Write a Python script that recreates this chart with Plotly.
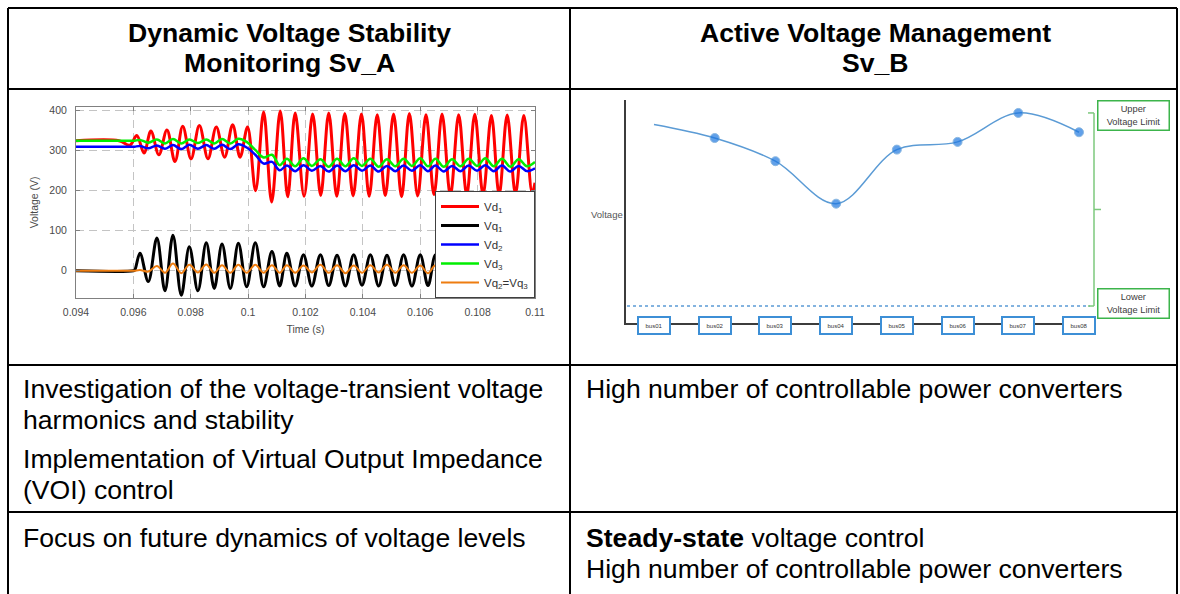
import plotly.graph_objects as go

W, H = 1180, 594
def px(x): return x / W
def py(y): return 1 - y / H

FONT = "Liberation Sans, Arial, sans-serif"

# ---------------- Left chart (Sv_A) data ----------------
t_vd1 = [0.0940, 0.0955, 0.09588, 0.09612, 0.09637, 0.09661, 0.09689, 0.09717, 0.09745, 0.09772,
         0.09801, 0.09830, 0.09860, 0.09889, 0.09918, 0.09946, 0.09972, 0.09998, 0.10026, 0.10054,
         0.10082, 0.10112, 0.10138, 0.10164, 0.10195, 0.10225, 0.10253, 0.10281, 0.10309, 0.10337,
         0.10366, 0.10395, 0.10422, 0.10450, 0.10478, 0.10507, 0.10535, 0.10562, 0.10591, 0.10620,
         0.10648, 0.10676, 0.10705, 0.10734, 0.10762, 0.10790, 0.10819, 0.10848, 0.10875, 0.10903,
         0.10932, 0.10961, 0.10990, 0.1100]
vd1 = [325, 325, 314, 338, 294, 349, 290, 352, 273, 361,
       280, 363, 280, 359, 284, 365, 284, 359, 200, 397,
       172, 399, 185, 394, 186, 392, 188, 394, 186, 393,
       187, 392, 186, 390, 188, 392, 185, 393, 187, 390,
       190, 392, 188, 390, 189, 391, 190, 388, 190, 389,
       192, 388, 195, 220]

t_q = [0.0940, 0.0960, 0.09605, 0.09623, 0.09652, 0.09682, 0.09710, 0.09738, 0.09767, 0.09795,
       0.09825, 0.09854, 0.09882, 0.09909, 0.09938, 0.09966, 0.09995, 0.10025, 0.10054, 0.10083,
       0.10110, 0.10135, 0.10164, 0.10193, 0.10222, 0.10252, 0.10281, 0.10310, 0.10339, 0.10368,
       0.10397, 0.10426, 0.10455, 0.10484, 0.10513, 0.10542, 0.10571, 0.10600, 0.10627, 0.10653,
       0.10682, 0.10711, 0.10740, 0.10769, 0.10798, 0.10827, 0.10856, 0.10885, 0.10914, 0.10943,
       0.10972, 0.1100]
vq1 = [0, 0, 2, 44, -27, 82, -50, 89, -61, 60,
       -50, 70, -44, 67, -44, 69, -40, 70, -40, 48,
       -38, 44, -38, 40, -38, 40, -37, 39, -38, 40,
       -36, 40, -38, 39, -37, 40, -38, 40, -37, 40,
       -38, 40, -37, 40, -38, 40, -37, 40, -38, 40,
       -37, 20]
vd2 = [310, 310, 310, 312, 306, 313, 305, 314, 304, 315,
       305, 314, 305, 315, 304, 316, 308, 290, 268, 272,
       251, 263, 249, 264, 250, 262, 248, 263, 249, 264,
       250, 263, 248, 262, 249, 263, 250, 264, 249, 263,
       248, 262, 249, 263, 250, 264, 249, 263, 248, 262,
       249, 256]
vd3 = [325, 325, 325, 327, 320, 328, 318, 329, 318, 328,
       319, 328, 318, 329, 318, 330, 322, 302, 283, 290,
       264, 280, 261, 281, 262, 279, 260, 280, 261, 281,
       262, 280, 260, 279, 261, 280, 262, 281, 261, 280,
       260, 279, 261, 280, 262, 281, 261, 280, 260, 279,
       261, 272]
vq23 = [0, 0, 0, 2, -2, 12, -5, 18, -6, 15,
        -4, 16, -5, 14, -5, 15, -5, 15, -5, 14,
        -5, 14, -5, 13, -4, 15, -5, 14, -6, 13,
        -5, 14, -4, 15, -5, 14, -5, 13, -6, 14,
        -5, 15, -4, 14, -5, 13, -5, 14, -6, 15,
        -5, 5]

x_ticks = [0.094, 0.096, 0.098, 0.1, 0.102, 0.104, 0.106, 0.108, 0.11]
x_tick_labels = ["0.094", "0.096", "0.098", "0.1", "0.102", "0.104", "0.106", "0.108", "0.11"]
y_ticks = [0, 100, 200, 300, 400]
y_tick_labels = ["0", "100", "200", "300", "400"]

# ---------------- Right chart (Sv_B) data ----------------
buses = ["bus01", "bus02", "bus03", "bus04", "bus05", "bus06", "bus07", "bus08"]
bus_voltage = [1.044, 1.037, 1.025, 1.003, 1.031, 1.035, 1.050, 1.040]
v_upper = 1.05
v_lower = 0.95

# ---------------- Table text ----------------
header_left = ["Dynamic Voltage Stability", "Monitoring Sv_A"]
header_right = ["Active Voltage Management", "Sv_B"]
row1_left = ["Investigation of the voltage-transient voltage", "harmonics and stability",
             "Implementation of Virtual Output Impedance", "(VOI) control"]
row1_right = ["High number of controllable power converters"]
row2_left = ["Focus on future dynamics of voltage levels"]
row2_right = ["<b>Steady-state</b> voltage control", "High number of controllable power converters"]

fig = go.Figure()

series = [
    (t_vd1, vd1, "Vd<sub>1</sub>", "#ff0000", 3),
    (t_q, vq1, "Vq<sub>1</sub>", "#000000", 3),
    (t_q, vd2, "Vd<sub>2</sub>", "#0000ff", 2.5),
    (t_q, vd3, "Vd<sub>3</sub>", "#00ee00", 2.5),
    (t_q, vq23, "Vq<sub>2</sub>=Vq<sub>3</sub>", "#ee7d10", 2),
]
for tx, vy, nm, col, lw in series:
    fig.add_trace(go.Scatter(x=tx, y=vy, mode="lines", name=nm,
                             line=dict(color=col, width=lw, shape="spline", smoothing=1),
                             xaxis="x", yaxis="y", hoverinfo="skip"))

fig.add_trace(go.Scatter(x=buses, y=bus_voltage, mode="lines+markers", showlegend=False,
                         line=dict(color="#5b9bd5", width=1.5, shape="spline"),
                         marker=dict(size=[0, 9, 9, 9, 9, 9, 9, 9], color="#1f78e0"),
                         xaxis="x2", yaxis="y2", hoverinfo="skip"))

axis_font = dict(family=FONT, size=10.5, color="#4a4a4a")
fig.update_layout(
    template="none",
    width=W, height=H, margin=dict(l=0, r=0, t=0, b=0, autoexpand=False),
    paper_bgcolor="white", plot_bgcolor="white",
    font=dict(family=FONT),
    xaxis=dict(domain=[px(76), px(535)], range=[0.094, 0.11], anchor="y", automargin=False,
               tickvals=x_ticks, ticktext=x_tick_labels, tickfont=axis_font,
               showgrid=True, gridcolor="#c4c4c4", griddash="8px,5px", gridwidth=1,
               showline=True, linecolor="#808080", linewidth=1, mirror="ticks",
               ticks="inside", ticklen=4, tickcolor="#808080", zeroline=False,
               ticklabelstandoff=4,
               title=dict(text="Time (s)", font=axis_font, standoff=9)),
    yaxis=dict(domain=[py(298), py(106.7)], range=[-68, 410], anchor="x", automargin=False,
               tickvals=y_ticks, ticktext=y_tick_labels, tickfont=axis_font,
               showgrid=True, gridcolor="#c4c4c4", griddash="8px,5px", gridwidth=1,
               showline=True, linecolor="#808080", linewidth=1, mirror="ticks",
               ticks="inside", ticklen=4, tickcolor="#808080", zeroline=False,
               ticklabelstandoff=6,
               title=dict(text="Voltage (V)", font=axis_font, standoff=8)),
    xaxis2=dict(domain=[px(626), px(1094)], range=[-0.461, 7.247], anchor="y2", automargin=False,
                type="category", showline=True, linecolor="#3c3c3c", linewidth=2,
                showticklabels=False, ticks="", showgrid=False, zeroline=False),
    yaxis2=dict(domain=[py(323), py(100)], range=[0.9412, 1.0567], anchor="x2", automargin=False,
                showline=True, linecolor="#3c3c3c", linewidth=2,
                showticklabels=False, ticks="", showgrid=False, zeroline=False),
    legend=dict(x=px(535), xanchor="right", y=py(298), yanchor="bottom",
                bgcolor="white", bordercolor="#404040", borderwidth=1,
                font=dict(family=FONT, size=11.5, color="#333333"),
                itemwidth=38, tracegroupgap=0),
    showlegend=True,
)

shapes = []
def hline(y, x0=8, x1=1177, w=2):
    shapes.append(dict(type="line", xref="paper", yref="paper", x0=px(x0), x1=px(x1),
                       y0=py(y), y1=py(y), line=dict(color="black", width=w)))
def vline(x, y0=8, y1=594, w=2):
    shapes.append(dict(type="line", xref="paper", yref="paper", x0=px(x), x1=px(x),
                       y0=py(y0), y1=py(y1), line=dict(color="black", width=w)))
hline(8); hline(89); hline(365); hline(512)
vline(8); vline(570); vline(1177)

# Right chart limit decorations
shapes.append(dict(type="line", xref="paper", yref="y2", x0=px(627), x1=px(1090),
                   y0=v_lower, y1=v_lower, line=dict(color="#5b9bd5", width=1.5, dash="dot")))
green = "#7cc87c"
shapes.append(dict(type="line", xref="paper", yref="y2", x0=px(1094), x1=px(1094),
                   y0=v_lower, y1=v_upper, line=dict(color=green, width=1.5)))
shapes.append(dict(type="line", xref="paper", yref="y2", x0=px(1088), x1=px(1094),
                   y0=v_upper, y1=v_upper, line=dict(color=green, width=1.5)))
shapes.append(dict(type="line", xref="paper", yref="y2", x0=px(1088), x1=px(1094),
                   y0=v_lower, y1=v_lower, line=dict(color=green, width=1.5)))
shapes.append(dict(type="line", xref="paper", yref="y2", x0=px(1094), x1=px(1101),
                   y0=(v_upper + v_lower) / 2, y1=(v_upper + v_lower) / 2,
                   line=dict(color=green, width=1.5)))
fig.update_layout(shapes=shapes)

ann = []
def txt(x, y, s, size=26.6, anchor="left", color="black"):
    ann.append(dict(x=px(x), y=py(y), xref="paper", yref="paper", text=s, showarrow=False,
                    xanchor=anchor, yanchor="middle",
                    font=dict(family=FONT, size=size, color=color)))

txt(289, 33, "<b>%s</b>" % header_left[0], anchor="center")
txt(289, 63, "<b>%s</b>" % header_left[1], anchor="center")
txt(875, 33, "<b>%s</b>" % header_right[0], anchor="center")
txt(875, 63, "<b>%s</b>" % header_right[1], anchor="center")
for s, y in zip(row1_left, [389, 420, 459, 490]):
    txt(21, y, s)
for s, y in zip(row1_right, [389]):
    txt(584, y, s)
for s, y in zip(row2_left, [538]):
    txt(21, y, s)
for s, y in zip(row2_right, [538, 569]):
    txt(584, y, s)

# Right chart labels
txt(625, 214, "Voltage", size=9.5, anchor="right", color="#555555")
for b in buses:
    ann.append(dict(x=b, y=0, xref="x2", yref="y2 domain", text=b, showarrow=False,
                    xanchor="center", yanchor="middle", yshift=-2,
                    font=dict(family=FONT, size=6, color="#333333"),
                    bgcolor="white", bordercolor="#3d8fd6", borderwidth=2, borderpad=2,
                    width=26, height=11))
for label, yv, ys in [("Upper<br>Voltage Limit", v_upper, -3), ("Lower<br>Voltage Limit", v_lower, 3)]:
    ann.append(dict(x=px(1133.5), y=yv, xref="paper", yref="y2", text=label, showarrow=False,
                    xanchor="center", yanchor="middle", yshift=ys,
                    font=dict(family=FONT, size=9.3, color="#404040"),
                    bgcolor="white", bordercolor="#3cb44b", borderwidth=1.5, borderpad=1,
                    width=68, height=26))
fig.update_layout(annotations=ann)

fig.write_html("out.html", config={"displayModeBar": False},
               post_script="document.body.style.margin='0';document.body.style.overflow='hidden';")
